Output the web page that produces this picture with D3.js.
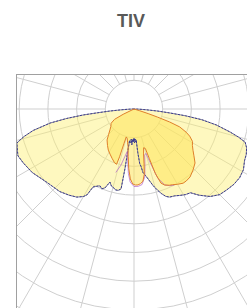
<!DOCTYPE html>
<html>
<head>
<meta charset="utf-8">
<script src="https://cdn.jsdelivr.net/npm/d3@7"></script>
<style>
  body { margin: 0; background: #fff; }
</style>
</head>
<body>
<div id="chart"></div>
<script>
// Polar light distribution chart, origin at top, 0 deg pointing down
var width = 247, height = 308;
var cx = 134, cy = 109;        // origin of the polar diagram
var ringStep = 28.7;           // pixels per 100 cd/klm

var title = "TIV";
var ringValues = [100, 200, 300, 400, 500, 600, 700, 800, 900, 1000];
var gridAngles = [0, 15, 30, 45, 60, 75, 90, 105, 120, 135, 150, 165, 180,
                  195, 210, 225, 240, 255, 270, 285, 300, 315, 330, 345];

// plane A (wide lobe, light yellow) : gamma in degrees, intensity in cd/klm
var planeAAngles = [-90, -88, -86.5, -85.2, -84, -83.3, -82, -80.5, -78, -76, -74.8, -73.8, -70, -68, -64, -58, -50, -42, -37, -33, -30, -28.7, -27.7, -25, -23.8, -22, -20.2, -18.2, -16.5, -15, -13, -11, -9.2, -8.6, -8.3, -8, -6.5, -5, -3.5, -2, -1, 0, 1, 2, 3, 4, 5, 6, 7, 8, 10, 12, 14, 16, 18, 20, 22, 25, 28, 31, 34, 37, 41, 45, 49, 53, 57, 61, 65, 68, 71, 73.4, 75, 76.5, 79, 81, 82.5, 83.7, 85, 86.5, 88, 90];
var planeAValues = [0, 17, 42, 84, 132, 178, 237, 296, 359, 394, 411, 425, 432, 436, 429, 418, 397, 387, 376, 366, 352, 341, 307, 296, 293, 300, 293, 268, 279, 282, 289, 289, 282, 209, 139, 111, 118, 105, 125, 105, 115, 101, 118, 105, 115, 108, 153, 192, 202, 223, 237, 254, 275, 293, 310, 324, 331, 334, 341, 348, 352, 376, 404, 422, 429, 436, 439, 436, 425, 422, 415, 404, 376, 345, 293, 240, 181, 125, 84, 42, 17, 0];

// plane B (narrow lobe, orange outline)
var planeBAngles = [-68, -64, -62, -58, -53, -49, -45, -41, -36, -32, -28, -24, -20, -17.5, -16.8, -16.2, -15.5, -13, -11, -9, -7, -5, -3, -1, 1, 3, 5, 7, 9, 10.5, 12, 14, 16, 17.2, 18.3, 20, 22, 25, 27, 30, 33.5, 36, 39.5, 44, 48.5, 52, 55, 58, 61, 64, 66, 68.6, 70, 71, 72, 73, 74];
var planeBValues = [0, 42, 77, 94, 101, 111, 125, 143, 157, 169, 178, 188, 199, 202, 174, 125, 101, 105, 118, 132, 167, 209, 244, 261, 265, 265, 261, 254, 230, 192, 160, 139, 143, 181, 237, 275, 286, 293, 296, 303, 310, 310, 307, 296, 284, 265, 251, 240, 233, 216, 199, 171, 132, 87, 52, 21, 0];

// plane C (purple line near the nadir)
var planeCAngles = [-16, -13, -11, -9, -7, -5, -3, 0, 3, 6, 9, 11, 13, 15, 17, 19, 22, 25, 28];
var planeCValues = [230, 200, 170, 150, 180, 225, 255, 270, 270, 265, 240, 200, 165, 160, 200, 255, 285, 295, 300];

function zip(angles, values) {
  return angles.map(function(g, i) { return { g: g, v: values[i] }; });
}

var svg = d3.select("#chart").append("svg")
    .attr("width", width).attr("height", height);

var r = d3.scaleLinear().domain([0, 100]).range([0, ringStep]);
var ang = function(g) { return Math.PI - g * Math.PI / 180; };

// title
svg.append("text")
    .attr("x", 131).attr("y", 27)
    .attr("text-anchor", "middle")
    .style("font-family", "'Liberation Sans', Arial, sans-serif")
    .style("font-weight", "bold")
    .style("font-size", "18px")
    .style("fill", "#595959")
    .text(title);

// clip to the frame
svg.append("clipPath").attr("id", "frame")
  .append("rect").attr("x", 16).attr("y", 74).attr("width", 236).attr("height", 300);

var plot = svg.append("g").attr("clip-path", "url(#frame)")
  .append("g").attr("transform", "translate(" + cx + "," + cy + ")");

// grid rings
plot.selectAll(".ring").data(ringValues).enter()
  .append("circle")
    .attr("r", function(d) { return r(d); })
    .style("fill", "none")
    .style("stroke", "#cfcfcf")
    .style("stroke-width", 1);

// radial lines, starting at the first ring
var spoke = d3.lineRadial().angle(function(d) { return d[0]; }).radius(function(d) { return d[1]; });
plot.selectAll(".spoke").data(gridAngles).enter()
  .append("path")
    .attr("d", function(d) { return spoke([[ang(d), r(ringValues[0])], [ang(d), r(ringValues[ringValues.length - 1])]]); })
    .style("stroke", "#cfcfcf")
    .style("stroke-width", 1);

var curve = d3.lineRadial()
    .angle(function(d) { return ang(d.g); })
    .radius(function(d) { return r(d.v); });

var dataA = zip(planeAAngles, planeAValues);
var dataB = zip(planeBAngles, planeBValues);
var dataC = zip(planeCAngles, planeCValues);

// fills
plot.append("path").attr("d", curve(dataA))
    .style("fill", "#fcef70").style("fill-opacity", 0.45).style("stroke", "none");
plot.append("path").attr("d", curve(dataB))
    .style("fill", "#fde45a").style("fill-opacity", 0.55).style("stroke", "none");

// outlines
plot.append("path").attr("d", curve(dataA))
    .style("fill", "none").style("stroke", "#8a8a9a").style("stroke-width", 1);
plot.append("path").attr("d", curve(dataA))
    .style("fill", "none").style("stroke", "#26268c").style("stroke-width", 0.8)
    .style("stroke-dasharray", "2,1.5");
plot.append("path").attr("d", curve(dataC))
    .style("fill", "none").style("stroke", "#b060c8").style("stroke-width", 0.7);
plot.append("path").attr("d", curve(dataB))
    .style("fill", "none").style("stroke", "#e0802a").style("stroke-width", 1);

// frame border
svg.append("rect")
    .attr("x", 16.5).attr("y", 74.5).attr("width", 236).attr("height", 300)
    .style("fill", "none").style("stroke", "#a0a0a0").style("stroke-width", 1);
</script>
</body>
</html>
